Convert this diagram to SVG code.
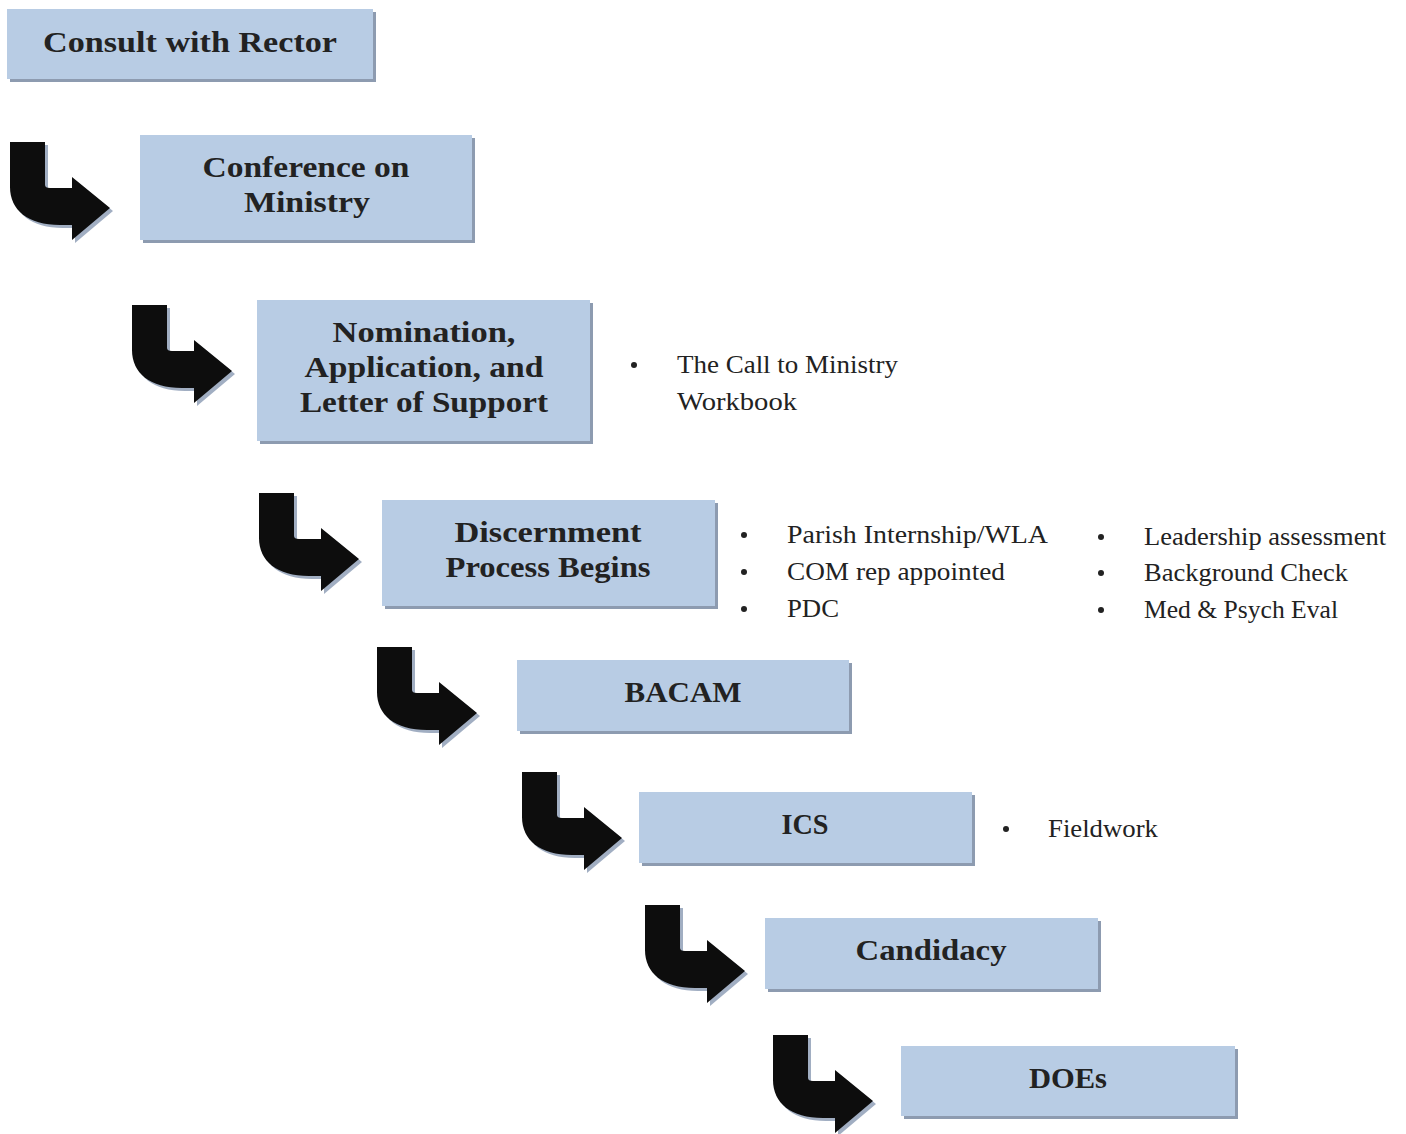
<svg xmlns="http://www.w3.org/2000/svg" width="1406" height="1134" viewBox="0 0 1406 1134">
<defs>
<style>
.box{fill:#b8cce4}
.sh{fill:#8d9bb0}
.t{font-family:"Liberation Serif","DejaVu Serif",serif;font-weight:bold;font-size:30px;fill:#222;text-anchor:middle}
.b{font-family:"Liberation Serif","DejaVu Serif",serif;font-size:25px;fill:#222}
.d{fill:#222}
.arr{fill:#0d0d0d}
.ash{fill:#8a9ab3;opacity:0.8}
</style>
<path id="bent" d="M0,0 H35 V43 Q35,46 40,46 H62 V35 L100,66 L62,98 V83 H50 C18,83 0,68 0,45 Z"/>
</defs>
<g id="connectors">
<g transform="translate(10,142)"><use href="#bent" class="ash" x="3" y="3"/><use href="#bent" class="arr"/></g>
<g transform="translate(132,305)"><use href="#bent" class="ash" x="3" y="3"/><use href="#bent" class="arr"/></g>
<g transform="translate(259,493)"><use href="#bent" class="ash" x="3" y="3"/><use href="#bent" class="arr"/></g>
<g transform="translate(377,647)"><use href="#bent" class="ash" x="3" y="3"/><use href="#bent" class="arr"/></g>
<g transform="translate(522,772)"><use href="#bent" class="ash" x="3" y="3"/><use href="#bent" class="arr"/></g>
<g transform="translate(645,905)"><use href="#bent" class="ash" x="3" y="3"/><use href="#bent" class="arr"/></g>
<g transform="translate(773,1035)"><use href="#bent" class="ash" x="3" y="3"/><use href="#bent" class="arr"/></g>
</g>
<g id="n1"><rect class="sh" x="10" y="12" width="366" height="70"/><rect class="box" x="7" y="9" width="366" height="70"/><text class="t" x="190" y="52" textLength="294" lengthAdjust="spacingAndGlyphs">Consult with Rector</text></g>
<g id="n2"><rect class="sh" x="143" y="138" width="332" height="105"/><rect class="box" x="140" y="135" width="332" height="105"/><text class="t" x="306" y="177" textLength="207" lengthAdjust="spacingAndGlyphs">Conference on</text><text class="t" x="307" y="212" textLength="126" lengthAdjust="spacingAndGlyphs">Ministry</text></g>
<g id="n3"><rect class="sh" x="260" y="303" width="333" height="141"/><rect class="box" x="257" y="300" width="333" height="141"/><text class="t" x="424" y="342" textLength="183" lengthAdjust="spacingAndGlyphs">Nomination,</text><text class="t" x="424" y="377" textLength="239" lengthAdjust="spacingAndGlyphs">Application, and</text><text class="t" x="424" y="412" textLength="248" lengthAdjust="spacingAndGlyphs">Letter of Support</text></g>
<g id="n3b"><circle class="d" cx="634" cy="365" r="3"/><text class="b" x="677" y="373" textLength="221" lengthAdjust="spacingAndGlyphs">The Call to Ministry</text><text class="b" x="677" y="410" textLength="120" lengthAdjust="spacingAndGlyphs">Workbook</text></g>
<g id="n4"><rect class="sh" x="385" y="503" width="333" height="106"/><rect class="box" x="382" y="500" width="333" height="106"/><text class="t" x="548" y="542" textLength="187" lengthAdjust="spacingAndGlyphs">Discernment</text><text class="t" x="548" y="577" textLength="205" lengthAdjust="spacingAndGlyphs">Process Begins</text></g>
<g id="n4b"><circle class="d" cx="744" cy="535" r="3"/><text class="b" x="787" y="543" textLength="261" lengthAdjust="spacingAndGlyphs">Parish Internship/WLA</text><circle class="d" cx="744" cy="572" r="3"/><text class="b" x="787" y="580" textLength="218" lengthAdjust="spacingAndGlyphs">COM rep appointed</text><circle class="d" cx="744" cy="609" r="3"/><text class="b" x="787" y="617" textLength="52" lengthAdjust="spacingAndGlyphs">PDC</text>
<circle class="d" cx="1101" cy="537" r="3"/><text class="b" x="1144" y="545" textLength="242" lengthAdjust="spacingAndGlyphs">Leadership assessment</text><circle class="d" cx="1101" cy="573" r="3"/><text class="b" x="1144" y="581" textLength="204" lengthAdjust="spacingAndGlyphs">Background Check</text><circle class="d" cx="1101" cy="610" r="3"/><text class="b" x="1144" y="618" textLength="194" lengthAdjust="spacingAndGlyphs">Med &amp; Psych Eval</text></g>
<g id="n5"><rect class="sh" x="520" y="663" width="332" height="71"/><rect class="box" x="517" y="660" width="332" height="71"/><text class="t" x="683" y="702" textLength="117" lengthAdjust="spacingAndGlyphs">BACAM</text></g>
<g id="n6"><rect class="sh" x="642" y="795" width="333" height="71"/><rect class="box" x="639" y="792" width="333" height="71"/><text class="t" x="805" y="834" textLength="47" lengthAdjust="spacingAndGlyphs">ICS</text></g>
<g id="n6b"><circle class="d" cx="1006" cy="829" r="3"/><text class="b" x="1048" y="837" textLength="110" lengthAdjust="spacingAndGlyphs">Fieldwork</text></g>
<g id="n7"><rect class="sh" x="768" y="921" width="333" height="71"/><rect class="box" x="765" y="918" width="333" height="71"/><text class="t" x="931" y="960" textLength="151" lengthAdjust="spacingAndGlyphs">Candidacy</text></g>
<g id="n8"><rect class="sh" x="904" y="1049" width="334" height="70"/><rect class="box" x="901" y="1046" width="334" height="70"/><text class="t" x="1068" y="1088" textLength="78" lengthAdjust="spacingAndGlyphs">DOEs</text></g>
</svg>
